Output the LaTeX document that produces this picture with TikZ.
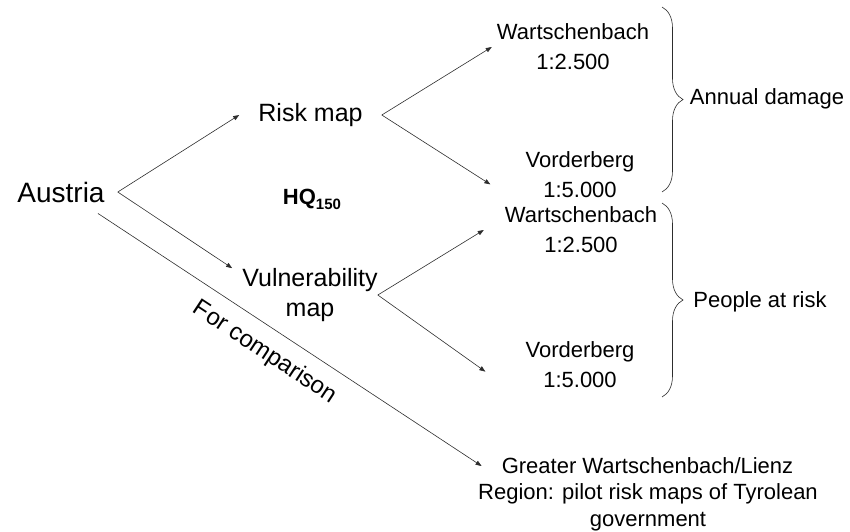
\documentclass[tikz,border=0pt]{standalone}
\usepackage{fontspec}
\setmainfont{Liberation Sans}
\usetikzlibrary{arrows.meta,decorations.pathreplacing}
\definecolor{lin}{RGB}{45,45,45}

\begin{document}
\begin{tikzpicture}[x=1pt,y=1pt,
  txt/.style={align=center,inner sep=0pt,text=black,font=\fontsize{22}{30}\selectfont},
  arr/.style={-{Triangle[length=6pt,width=4.5pt]},lin,line width=0.6pt},
  brc/.style={decorate,decoration={brace,amplitude=21pt},lin,line width=0.6pt}]
  \useasboundingbox (0,0) rectangle (850,-531);
  % left part
  \node[txt,font=\fontsize{28}{30}\selectfont,inner xsep=13pt,inner ysep=3pt] (austria) at (61,-192) {Austria};
  \node[txt,font=\fontsize{25}{30}\selectfont,inner xsep=19pt] (risk) at (310.5,-115) {Risk map};
  \node[txt,font=\fontsize{25}{30}\selectfont] (vuln) at (310,-295) {Vulnerability\\map};
  \node[txt,font=\bfseries\fontsize{22}{30}\selectfont] (hq) at (312,-199) {HQ\raisebox{-5pt}{\fontsize{15}{15}\selectfont 150}};
  % maps
  \node[txt,inner xsep=5pt] (wart1) at (573,-47) {Wartschenbach\\1:2.500};
  \node[txt,inner xsep=35pt] (vord1) at (580,-175) {Vorderberg\\1:5.000};
  \node[txt,inner xsep=21pt] (wart2) at (581,-230) {Wartschenbach\\1:2.500};
  \node[txt,inner xsep=40pt] (vord2) at (580,-365) {Vorderberg\\1:5.000};
  \node[txt,inner xsep=20pt] (great) at (647.5,-466) {Greater Wartschenbach/Lienz};
  \node[txt,font=\fontsize{22}{27}\selectfont] (region) at (648,-507) {Region: pilot risk maps of Tyrolean\\government};
  % results
  \node[txt] (annual) at (767,-99) {Annual damage};
  \node[txt] (people) at (760,-302) {People at risk};
  \draw[brc] (662,-7) -- (662,-192);
  \draw[brc] (662,-203) -- (662,-397);
  % arrows
  \draw[arr] (austria.east) -- (risk.west);
  \draw[arr] (austria.east) -- ([xshift=-10pt]vuln.north west);
  \draw[arr] ([xshift=37pt,yshift=-8pt]austria.south) -- node[txt,font=\fontsize{24}{30}\selectfont,sloped,below=13pt,pos=0.47] (comp) {For comparison} (great.west);
  \draw[arr] (risk.east) -- (wart1.west);
  \draw[arr] (risk.east) -- (vord1.186);
  \draw[arr] (vuln.east) -- (wart2.west);
  \draw[arr] (vuln.east) -- (vord2.184);
\end{tikzpicture}
\end{document}
